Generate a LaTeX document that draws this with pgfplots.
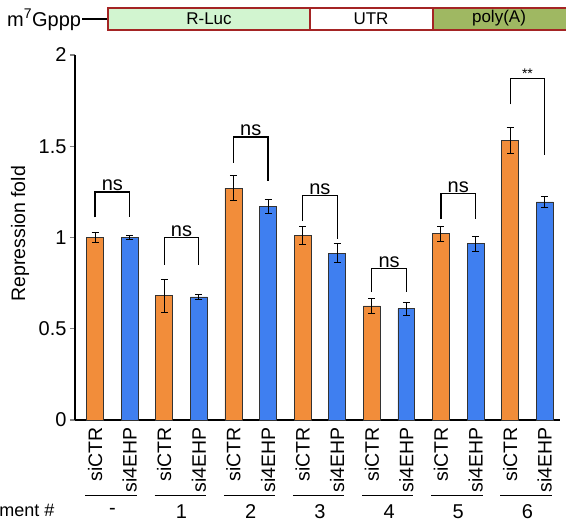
\documentclass[border=0pt]{standalone}
\usepackage{fontspec}
\setmainfont{Liberation Sans}
\usepackage{pgfplots}
\pgfplotsset{compat=1.18}
\usepackage{pgfplotstable}
\definecolor{barorange}{HTML}{F28D3A}
\definecolor{barblue}{HTML}{3F7FF0}
\definecolor{lucgreen}{HTML}{D2F5D0}
\definecolor{polyagreen}{HTML}{9FB862}
\definecolor{boxred}{HTML}{A42424}
\pgfplotstableread{
x y e
0 1.00 0.03
2 0.68 0.09
4 1.27 0.07
6 1.01 0.05
8 0.625 0.04
10 1.02 0.04
12 1.53 0.07
}\ctr
\pgfplotstableread{
x y e
1 1.00 0.012
3 0.674 0.015
5 1.17 0.04
7 0.915 0.05
9 0.61 0.035
11 0.965 0.04
13 1.195 0.03
}\ehp
\begin{document}
\begin{tikzpicture}[x=1pt,y=1pt]
\useasboundingbox (0,0) rectangle (566,527);
\clip (0,0) rectangle (566,527);
\begin{axis}[
  at={(75pt,107pt)}, anchor=south west,
  scale only axis, width=485pt, height=365pt,
  xmin=-0.58, xmax=13.44, ymin=0, ymax=2,
  axis x line=bottom, axis y line=left,
  axis line style={-, line width=1.6pt},
  ytick={0,0.5,1,1.5,2},
  yticklabels={0,0.5,1,1.5,2},
  tick align=outside, major tick length=5pt,
  ytick style={line width=1.2pt},
  xtick={0,...,13}, xtick style={draw=none},
  xticklabels={siCTR,si4EHP,siCTR,si4EHP,siCTR,si4EHP,siCTR,si4EHP,siCTR,si4EHP,siCTR,si4EHP,siCTR,si4EHP},
  xticklabel style={rotate=90, anchor=east, font=\fontsize{19.5}{22}\selectfont, inner sep=2pt},
  yticklabel style={font=\fontsize{20}{22}\selectfont},
  /pgf/number format/assume math mode=true,
  ylabel={Repression fold},
  ylabel style={at={(axis description cs:-0.113,0.51)}, anchor=center, font=\fontsize{19.5}{22}\selectfont},
  clip=false,
  ybar, bar width=0.49, bar shift=0pt,
]
\addplot[fill=barorange, draw=black!80, line width=0.8pt,
  error bars/.cd, y dir=both, y explicit,
  error bar style={black, line width=1pt}, error mark options={rotate=90, mark size=3.5pt, line width=1pt}]
  table[x=x, y=y, y error=e] {\ctr};
\addplot[fill=barblue, draw=black!80, line width=0.8pt,
  error bars/.cd, y dir=both, y explicit,
  error bar style={black, line width=1pt}, error mark options={rotate=90, mark size=3.5pt, line width=1pt}]
  table[x=x, y=y, y error=e] {\ehp};
% significance brackets
\foreach \g/\t/\l/\r/\s in {0/1.25/1.11/1.11/ns, 1/1.00/0.85/0.85/ns, 2/1.55/1.41/1.31/ns, 3/1.23/1.09/0.99/ns, 4/0.83/0.70/0.70/ns, 5/1.24/1.10/1.10/ns}{
  \edef\tmp{\noexpand\draw[line width=1.3pt] (axis cs:{2*\g},\l) -- (axis cs:{2*\g},\t) -- (axis cs:{2*\g+1},\t) -- (axis cs:{2*\g+1},\r);
  \noexpand\node[anchor=south, inner sep=1pt, font=\noexpand\fontsize{20}{22}\noexpand\selectfont] at (axis cs:{2*\g+0.5},\t) {\s};}
  \tmp
}
\draw[line width=1.3pt] (axis cs:12,1.73) -- (axis cs:12,1.87) -- (axis cs:13,1.87) -- (axis cs:13,1.45);
\node[anchor=south, inner sep=1pt, font=\fontsize{14}{16}\selectfont] at (axis cs:12.5,1.865) {**};
% fragment row
\foreach \g/\n in {0/-,1/1,2/2,3/3,4/4,5/5,6/6}{
  \edef\tmp{\noexpand\draw[line width=1pt] (axis cs:{2*\g-0.28},-0.416) -- (axis cs:{2*\g+1.2},-0.416);
  \noexpand\node[font=\noexpand\fontsize{20}{22}\noexpand\selectfont] at (axis cs:{2*\g+0.5},-0.50) {\n};}
  \tmp
}
\end{axis}
\node[anchor=east, font=\fontsize{18}{20}\selectfont] at (58,15) {Fragment \#};
% construct diagram
\node[anchor=west, inner sep=0pt, font=\fontsize{20}{22}\selectfont] at (7,507) {m\textsuperscript{7}Gppp};
\draw[line width=1.2pt] (82,508) -- (108,508);
\draw[boxred, line width=2pt, fill=lucgreen] (108,497) rectangle (310,519);
\draw[boxred, line width=2pt, fill=white] (310,497) rectangle (433,519);
\draw[boxred, line width=2pt, fill=polyagreen] (433,497) rectangle (570,519);
\node[font=\fontsize{17}{19}\selectfont] at (209,508) {R-Luc};
\node[font=\fontsize{17}{19}\selectfont] at (371,508) {UTR};
\node[font=\fontsize{17}{19}\selectfont] at (499,509) {poly(A)};
\end{tikzpicture}
\end{document}
